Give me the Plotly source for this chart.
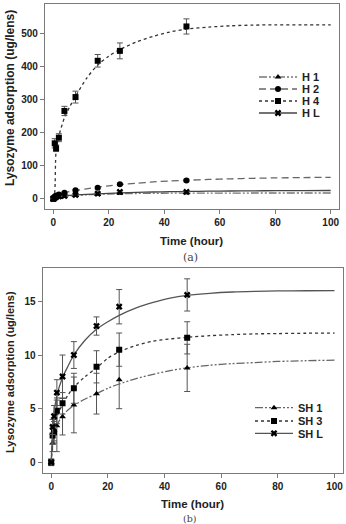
import plotly.graph_objects as go

# ---------------- data ----------------
t_pts = [0, 0.5, 1, 2, 4, 8, 16, 24, 48]
t_fit = [0, 0.5, 1, 2, 4, 6, 8, 12, 16, 20, 24, 30, 36, 42, 48, 56, 64, 72, 80, 90, 100]

# panel (a)
H1 = [0, 3, 4, 5, 7, 10, 14, 17, 18]
H1_err = [1, 1, 1, 1.5, 1.5, 2, 2, 2.5, 3]
H2 = [0, 7, 10, 13, 18, 26, 33, 44, 55.5]
H2_err = [1, 1.5, 1.5, 2, 2, 2.5, 3, 3, 4]
H4 = [0, 168, 153, 185, 266, 308, 418, 448, 522]
H4_err = [2, 14, 10, 12, 14, 18, 19, 24, 23]
HL = [0, 3, 5, 7, 8.5, 11.5, 15.5, 21, 21]
HL_err = [1, 1, 1.5, 1.5, 2, 2, 2.5, 3, 3]

H1_fit = [0, 3, 4.5, 6, 7.5, 9, 10, 12, 13.5, 14.5, 15.3, 16, 16.5, 16.8, 17, 17.2, 17.3, 17.4, 17.5, 17.5, 17.5]
H2_fit = [0, 6, 9, 13, 18, 22, 25, 30, 35, 39, 43, 47, 51, 54, 56, 58.5, 60.5, 62, 63.2, 64.2, 65]
H4_fit = [0, 20, 145, 190, 245, 280, 310, 365, 405, 432, 452, 475, 492, 505, 514, 520, 524, 526, 527, 527, 527]
HL_fit = [0, 3, 5, 7, 9, 10.3, 11.5, 13.5, 15, 16.5, 17.8, 19.3, 20.5, 21.5, 22.2, 23, 23.6, 24, 24.4, 24.7, 25]

# panel (b)
SH1 = [0, 1.8, 3.0, 3.4, 4.25, 5.35, 6.4, 7.7, 8.8]
SH1_err = [0.3, 0.8, 1.0, 2.4, 1.7, 2.6, 1.9, 2.7, 2.2]
SH3 = [0, 2.5, 2.8, 4.8, 5.5, 6.9, 8.9, 10.5, 11.6]
SH3_err = [0.3, 0.8, 1.0, 1.2, 1.0, 1.4, 1.5, 1.55, 1.5]
SHL = [0, 3.3, 4.3, 6.5, 8.0, 10.0, 12.7, 14.5, 15.6]
SHL_err = [0.2, 0.7, 1.0, 1.2, 2.0, 1.25, 0.85, 1.6, 1.5]

SH1_fit = [0, 1.6, 2.5, 3.4, 4.4, 4.9, 5.3, 5.9, 6.4, 6.9, 7.3, 7.8, 8.2, 8.55, 8.8, 9.05, 9.2, 9.3, 9.4, 9.47, 9.52]
SH3_fit = [0, 2.0, 3.0, 4.2, 5.4, 6.3, 7.0, 8.0, 8.8, 9.7, 10.3, 10.9, 11.3, 11.5, 11.65, 11.8, 11.9, 11.97, 12.0, 12.03, 12.05]
SHL_fit = [0, 3.0, 4.6, 6.2, 7.9, 9.0, 10.0, 11.4, 12.4, 13.1, 13.7, 14.4, 14.9, 15.3, 15.55, 15.75, 15.87, 15.93, 15.97, 15.99, 16.0]

x_ticks = [0, 20, 40, 60, 80, 100]
ya_ticks = [0, 100, 200, 300, 400, 500]
yb_ticks = [0, 5, 10, 15]

names_a = ["H 1", "H 2", "H 4", "H L"]
names_b = ["SH 1", "SH 3", "SH L"]

# ---------------- styles ----------------
FONT = "Liberation Sans, Arial, sans-serif"
DDOT = "8px,2px,2px,2px,2px,2px"
styles_a = [
    dict(dash=DDOT, color="#777777", symbol="triangle-up"),
    dict(dash="7px,4px", color="#666666", symbol="circle"),
    dict(dash="dot", color="#333333", symbol="square"),
    dict(dash="solid", color="#444444", symbol="x"),
]
styles_b = [
    dict(dash=DDOT, color="#666666", symbol="triangle-up"),
    dict(dash="dot", color="#333333", symbol="square"),
    dict(dash="solid", color="#555555", symbol="x"),
]

fig = go.Figure()

def add_panel(xa, ya, pts, errs, fits, names, styles, legend_ids, msize):
    for y, e, f, nm, st, lg in zip(pts, errs, fits, names, styles, legend_ids):
        fig.add_trace(go.Scatter(
            x=t_fit, y=f, mode="lines", xaxis=xa, yaxis=ya, showlegend=False,
            line=dict(color=st["color"], width=1.3, dash=st["dash"], shape="spline", smoothing=0.8),
            hoverinfo="skip"))
        fig.add_trace(go.Scatter(
            x=t_pts, y=y, mode="markers", xaxis=xa, yaxis=ya, showlegend=False,
            marker=dict(symbol=st["symbol"], size=msize, color="black", line=dict(width=0)),
            error_y=dict(type="data", array=e, visible=True, color="#555555", thickness=1, width=3)))
        # legend entry
        fig.add_trace(go.Scatter(
            x=[None], y=[None], mode="lines+markers", name=nm, xaxis=xa, yaxis=ya,
            legend=lg,
            line=dict(color=st["color"], width=1.3, dash=st["dash"]),
            marker=dict(symbol=st["symbol"], size=msize, color="black", line=dict(width=0))))

add_panel("x", "y", [H1, H2, H4, HL], [H1_err, H2_err, H4_err, HL_err],
          [H1_fit, H2_fit, H4_fit, HL_fit], names_a, styles_a,
          ["legend", "legend2", "legend3", "legend4"], 6)
add_panel("x2", "y2", [SH1, SH3, SHL], [SH1_err, SH3_err, SHL_err],
          [SH1_fit, SH3_fit, SHL_fit], names_b, styles_b,
          ["legend5", "legend6", "legend7"], 6)

W, H = 346, 524
def px(xp):
    return xp / W
def py(yp):
    return 1 - yp / H

axis_common = dict(
    showline=True, mirror=True, linecolor="#7a7a7a", linewidth=1.3,
    ticks="outside", ticklen=4, tickcolor="#7a7a7a", tickwidth=1,
    showgrid=False, zeroline=False,
    tickfont=dict(family=FONT, size=10, color="#222222", weight="bold"),
)

legend_common = dict(xanchor="left", yanchor="middle", bgcolor="rgba(0,0,0,0)",
                     borderwidth=0, font=dict(family=FONT, size=11, color="#222222", weight="bold"),
                     itemwidth=38)

layout = dict(
    width=W, height=H, margin=dict(l=0, r=0, t=0, b=0),
    paper_bgcolor="white", plot_bgcolor="white",
    xaxis=dict(domain=[px(45), px(339)], range=[-3, 103], tickvals=x_ticks, anchor="y", **axis_common),
    yaxis=dict(domain=[py(209), py(4)], range=[-31, 590], tickvals=ya_ticks, anchor="x", **axis_common),
    xaxis2=dict(domain=[px(42.7), px(343)], range=[-3, 103], tickvals=x_ticks, anchor="y2", **axis_common),
    yaxis2=dict(domain=[py(473.3), py(268.3)], range=[-1.02, 18.08], tickvals=yb_ticks, anchor="x2", **axis_common),
)

leg_y_a = [77, 89, 101, 113]
leg_y_b = [407.7, 421, 433.3]
for i, yy in enumerate(leg_y_a):
    key = "legend" if i == 0 else f"legend{i+1}"
    layout[key] = dict(x=px(254), y=py(yy), **legend_common)
for j, yy in enumerate(leg_y_b):
    key = f"legend{j+5}"
    layout[key] = dict(x=px(250), y=py(yy), **legend_common)

fig.update_layout(**layout)

title_font = dict(family=FONT, size=12, color="#222222", weight="bold")
ann = [
    dict(text="Lysozyme adsorption (ug/lens)", x=px(10), y=py(98), textangle=-90,
         font=title_font),
    dict(text="Time (hour)", x=px(192), y=py(241), font=dict(family=FONT, size=11.5, color="#222222", weight="bold")),
    dict(text="(a)", x=px(190), y=py(257), font=dict(family="DejaVu Serif, serif", size=11, color="#444444")),
    dict(text="Lysozyme adsorption (ug/lens)", x=px(10), y=py(372), textangle=-90,
         font=dict(family=FONT, size=11, color="#222222", weight="bold")),
    dict(text="Time (hour)", x=px(192.5), y=py(503.5), font=dict(family=FONT, size=11.5, color="#222222", weight="bold")),
    dict(text="(b)", x=px(190), y=py(518), font=dict(family="DejaVu Serif, serif", size=9.5, color="#444444")),
]
for a in ann:
    a.update(xref="paper", yref="paper", showarrow=False, xanchor="center", yanchor="middle")
fig.update_layout(annotations=ann)

fig.write_html("out.html")
